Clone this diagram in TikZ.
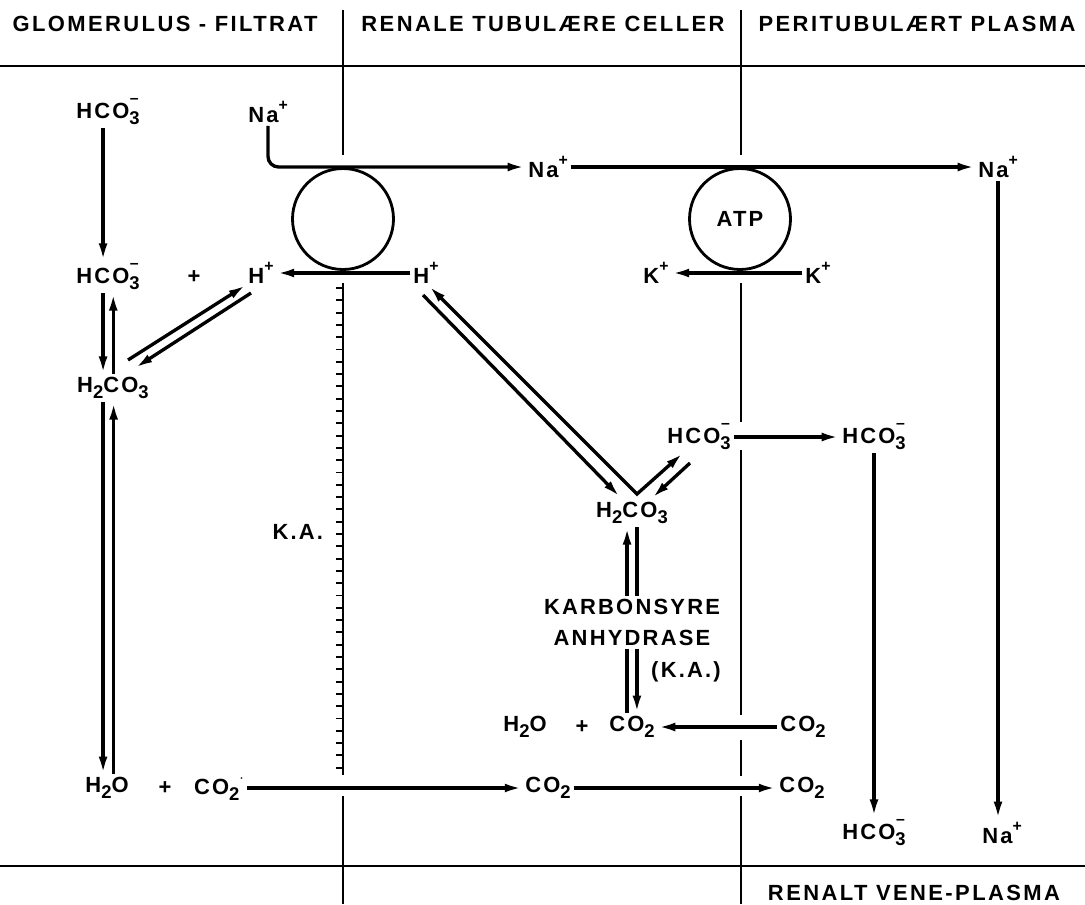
\documentclass[tikz,border=0pt]{standalone}
\usepackage{fontspec}
\setmainfont{Liberation Sans}
\newfontfamily\hdfont[LetterSpace=11]{Liberation Sans}
\newfontfamily\chfont[LetterSpace=10]{Liberation Sans}
\usepackage{tikz}
\usetikzlibrary{arrows.meta,positioning,calc}

\newcommand{\lo}[1]{\raisebox{-0.55ex}{\fontsize{10.5}{11}\selectfont #1}}
\newcommand{\hi}[1]{\raisebox{1.05ex}{\fontsize{9}{10}\selectfont #1}}
\newcommand{\bicarb}{HCO\rlap{\hspace{0.3pt}\raisebox{1.25ex}{\fontsize{9}{10}\selectfont –}}\lo{3}}
\newcommand{\carbacid}{H\lo{2}CO\lo{3}}
\newcommand{\cdiox}{CO\lo{2}}
\newcommand{\water}{H\lo{2}O}
\newcommand{\ionp}[1]{#1\hi{+}}

\begin{document}
\begin{tikzpicture}[x=0.02cm, y=-0.02cm,
    lbl/.style={font=\chfont\bfseries\fontsize{12.5}{14}\selectfont, inner sep=1.5pt},
    hdr/.style={font=\hdfont\bfseries\fontsize{12.5}{15}\selectfont, inner sep=0pt},
    pump/.style={circle, draw, line width=1.6pt, minimum size=2.02cm,
                 inner sep=0pt, font=\chfont\bfseries\fontsize{12.5}{14}\selectfont},
    arr/.style={-{Latex[length=10pt,width=5pt]}, line width=1.9pt},
    dbl/.style={{Latex[length=10pt,width=5pt]}-{Latex[length=10pt,width=5pt]},
                line width=1.9pt},
    mem/.style={line width=1.1pt},
    rule/.style={line width=1.5pt}
  ]
  \useasboundingbox (0,0) rectangle (1085,904);

  \node[hdr] (hglom) at (165,24) {GLOMERULUS - FILTRAT};
  \node[hdr] (hcell) at (543,24) {RENALE TUBULÆRE CELLER};
  \node[hdr] (hperi) at (917,24) {PERITUBULÆRT PLASMA};
  \node[hdr] (hvene) at (914,893) {RENALT VENE-PLASMA};

  \draw[rule] (0,66) -- (1085,66);
  \draw[rule] (0,866) -- (1085,866);

  \draw[mem] (343,10) -- (343,155);
  \draw[mem] (343,283) -- (343,775);
  \draw[mem] (343,796) -- (343,904);
  \foreach \y in {288,300.3,...,776}
    \draw[mem] (343,\y) -- ++(-7,0);
  \draw[mem] (741,10) -- (741,155);
  \draw[mem] (741,283) -- (741,422);
  \draw[mem] (741,450) -- (741,715);
  \draw[mem] (741,740) -- (741,776);
  \draw[mem] (741,796) -- (741,904);

  \node[pump] (pumpa) at (343,219) {};
  \node[pump] (pumpb) at (740,219) {ATP};

  \node[lbl] (hcoa) at (108,112) {\bicarb};
  \node[lbl] (naa) at (268,112) {\ionp{Na}};
  \node[lbl] (nab) at (548,167) {\ionp{Na}};
  \node[lbl] (nac) at (998,167) {\ionp{Na}};
  \node[lbl] (hcob) at (108,277) {\bicarb};
  \node[lbl] (plusa) at (194,277) {+};
  \node[lbl] (ha) at (261,273) {\ionp{H}};
  \node[lbl] (hb) at (426,273) {\ionp{H}};
  \node[lbl] (ka) at (656,273) {\ionp{K}};
  \node[lbl] (kb) at (818,273) {\ionp{K}};
  \node[lbl] (h2coa) at (113,388) {\carbacid};
  \node[lbl] (hcom) at (699,437) {\bicarb};
  \node[lbl] (hcor) at (874,437) {\bicarb};
  \node[lbl] (h2cob) at (632,513) {\carbacid};
  \node[lbl, anchor=east] (kaa) at (326,532) {K.A.};
  \node[lbl] (karb) at (632,607) {KARBONSYRE};
  \node[lbl] (anhy) at (632,638) {ANHYDRASE};
  \node[lbl] (kab) at (686,672) {(K.A.)};
  \node[lbl] (h2ob) at (525,727) {\water};
  \node[lbl] (plusb) at (582,727) {+};
  \node[lbl] (co2b) at (632,727) {\cdiox};
  \node[lbl] (co2c) at (803,727) {\cdiox};
  \node[lbl] (h2oa) at (107,788) {\water};
  \node[lbl] (plusc) at (165,788) {+};
  \node[lbl] (co2a) at (219,788) {\cdiox\hi{$\cdot$}};
  \node[lbl] (co2m) at (548,788) {\cdiox};
  \node[lbl] (co2r) at (802,788) {\cdiox};
  \node[lbl] (hcobot) at (874,833) {\bicarb};
  \node[lbl] (nabot) at (1002,833) {\ionp{Na}};

  \draw[arr, rounded corners=6pt] (naa.south) |- (nab.west);
  \draw[arr] (nab.east) -- (nac.west);
  \draw[arr] (nac.south) -- (nac.south |- nabot.north);
  \draw[arr] (hb.west) -- (ha.east);
  \draw[arr] (kb.west) -- (ka.east);
  \draw[arr] ([xshift=-2.8pt]hcoa.south) -- ([xshift=-2.8pt]hcob.north);
  \draw[arr] ([xshift=-2.8pt]hcob.south) -- ([xshift=-2.8pt]hcob.south |- h2coa.north);
  \draw[arr] ([xshift=3pt]hcob.south |- h2coa.north) -- ([xshift=3pt]hcob.south);
  \draw[arr] ($(h2coa)+(15,-28)$) -- ($(ha)+(-15,12)$);
  \draw[arr] ($(ha)+(-10,20)$) -- ($(h2coa)+(22,-20)$);
  \draw[arr] ([xshift=-2.8pt]hcob.south |- h2coa.south) -- ([xshift=-2.8pt]hcob.south |- h2oa.north);
  \draw[arr] ([xshift=3.2pt]hcob.south |- h2oa.north) -- ([xshift=3.2pt]hcob.south |- h2coa.south);
  \draw[dbl] ($(hb)+(3,13)$) -- ($(h2cob)+(5,-19)$) -- ($(hcom)+(-16,16)$);
  \draw[arr] ($(hb)+(-3,22)$) -- ($(h2cob)+(-12,-16)$);
  \draw[arr] ($(hcom)+(-9,26)$) -- ($(h2cob)+(20,-15)$);
  \draw[arr] (hcom.east) -- (hcor.west);
  \draw[arr] (hcor.south) -- (hcobot.north);
  \draw[arr] ([xshift=-2.8pt]karb.north) -- ([xshift=-2.8pt]h2cob.south);
  \draw[line width=1.9pt] ([xshift=2.8pt]h2cob.south) -- ([xshift=2.8pt]karb.north);
  \draw[line width=1.9pt] ([xshift=-2.8pt]anhy.south) -- ([xshift=-2.8pt]co2b.north);
  \draw[arr] ([xshift=2.8pt]anhy.south) -- ([xshift=2.8pt]co2b.north);
  \draw[arr] (co2c.west) -- (co2b.east);
  \draw[arr] (co2a.east) -- (co2m.west);
  \draw[arr] (co2m.east) -- (co2r.west);
\end{tikzpicture}
\end{document}
